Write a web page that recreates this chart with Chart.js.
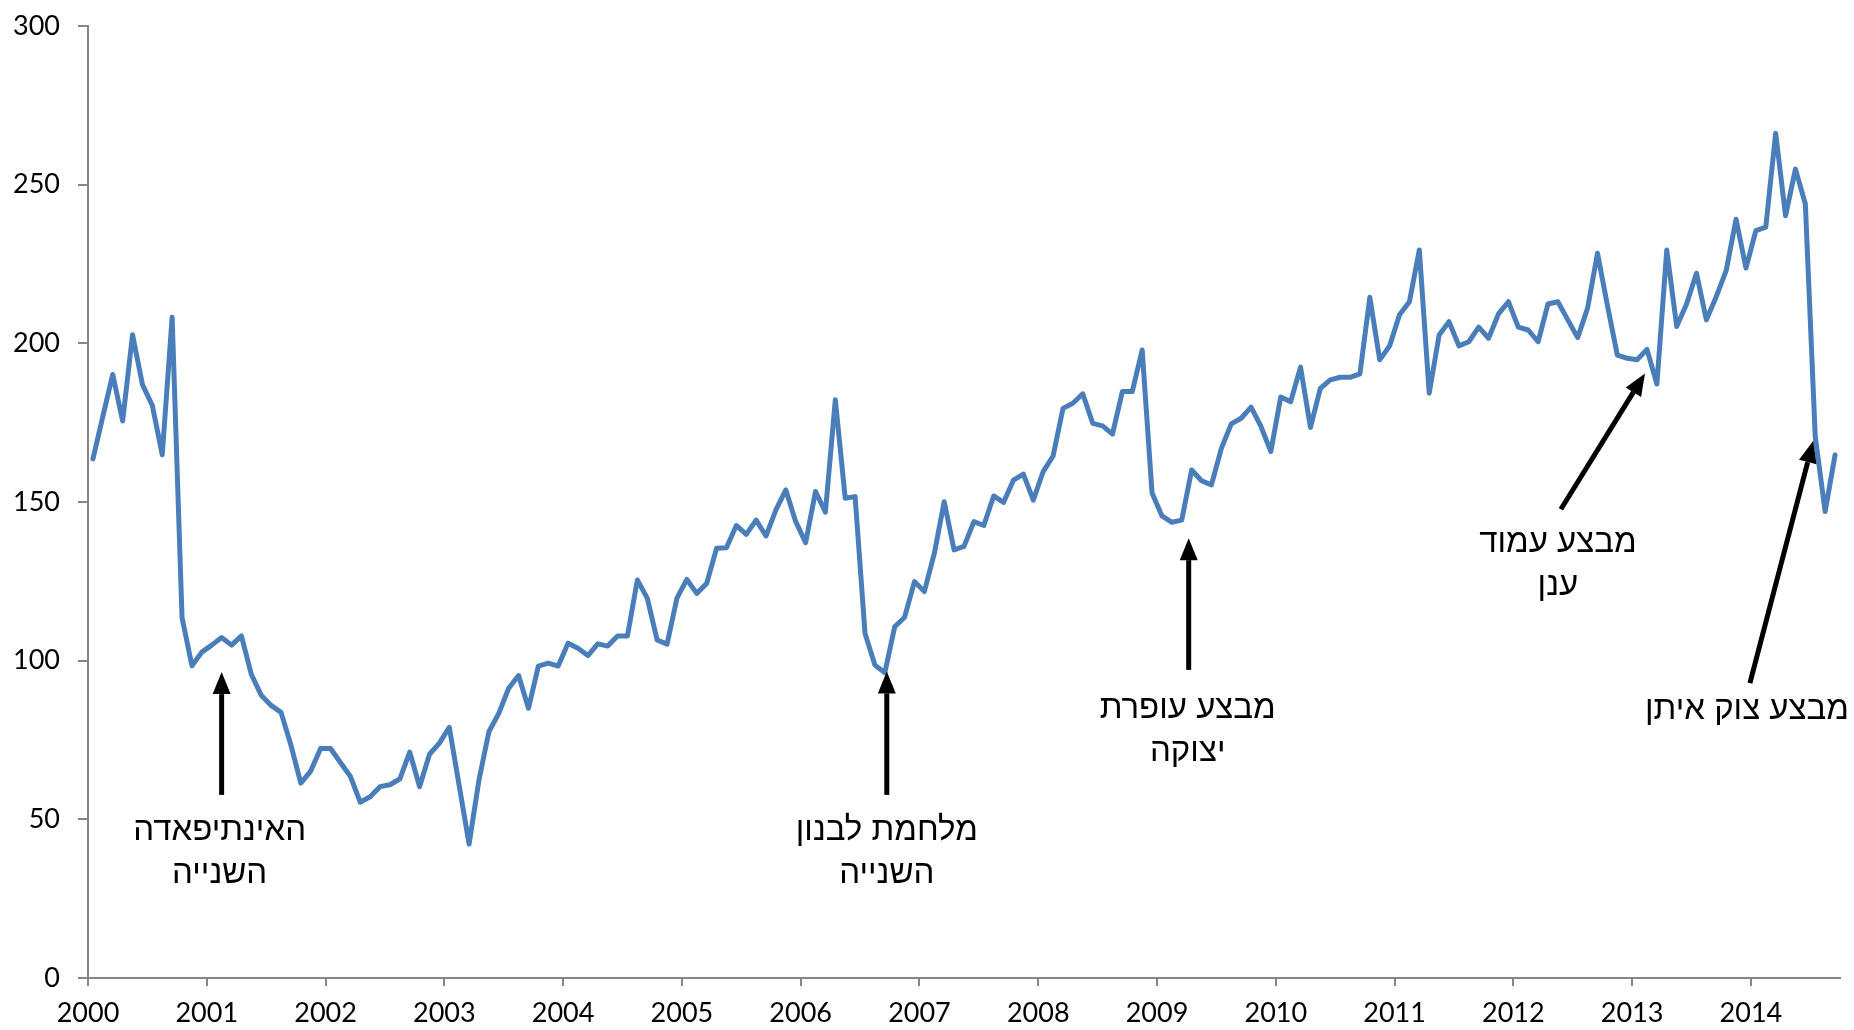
<!DOCTYPE html>
<html>
<head>
<meta charset="utf-8">
<script src="https://cdn.jsdelivr.net/npm/chart.js@4"></script>
<style>
  body { margin: 0; background: #fff; }
  #wrap { width: 1854px; height: 1030px; }
</style>
</head>
<body>
<div id="wrap"><canvas id="chart" width="1854" height="1030"></canvas></div>
<script>
// monthly series, Jan 2000 .. Sep 2014
const yearLabels = ['2000','2001','2002','2003','2004','2005','2006','2007','2008','2009','2010','2011','2012','2013','2014']
const values = [
  163.6, 177, 190.2, 175.5, 202.7, 187, 180.4, 164.9, 208.2, 113.6, 98.4, 102.7,
  104.9, 107.3, 104.9, 107.8, 95.7, 89.1, 85.9, 83.7, 73.4, 61.4, 65.2, 72.3,
  72.3, 67.9, 63.6, 55.4, 57.1, 60.3, 60.9, 62.7, 71.2, 60.3, 70.5, 74.0,
  79.0, 60.6, 42.2, 62.4, 77.6, 83.4, 91.3, 95.3, 85.0, 98.3, 99.2, 98.3,
  105.5, 103.9, 101.6, 105.3, 104.6, 107.8, 107.8, 125.4, 119.7, 106.5, 105.2, 119.7,
  125.6, 121.2, 124.3, 135.4, 135.6, 142.6, 139.8, 144.3, 139.3, 147.5, 153.8, 143.8,
  137.2, 153.3, 146.8, 182.2, 151.2, 151.7, 108.6, 98.6, 96.2, 110.7, 113.7, 124.9,
  121.8, 133.8, 150.1, 134.9, 136.0, 143.8, 142.6, 151.9, 149.9, 156.9, 158.8, 150.6,
  159.6, 164.5, 179.5, 181.1, 184.1, 174.8, 174.0, 171.4, 184.8, 184.8, 197.9, 152.8,
  145.6, 143.6, 144.3, 160.1, 156.7, 155.4, 166.9, 174.6, 176.4, 179.9, 173.8, 165.9,
  183.1, 181.6, 192.5, 173.5, 185.8, 188.5, 189.3, 189.3, 190.4, 214.5, 194.8, 199.2,
  209.0, 213.1, 229.4, 184.3, 202.6, 206.8, 199.2, 200.5, 205.1, 201.6, 209.3, 213.1,
  205.1, 204.2, 200.5, 212.4, 213.1, 207.4, 201.8, 211.1, 228.4, 212, 196.3, 195.3,
  194.8, 198.1, 187.2, 229.4, 205.3, 212.4, 222.1, 207.4, 214.7, 222.9, 239.1, 223.7,
  235.5, 236.6, 266.2, 240.2, 254.9, 243.9, 170.6, 147.0, 164.8
]
const yTicks = [0, 50, 100, 150, 200, 250, 300]

// annotation texts; arrows go from tail to tip, in (month index, value) units
const notes = [
  { lines: ['האינתיפאדה', 'השנייה'], at: [13.3, 46.3], from: [13.5, 57.7], to: [13.5, 96.4] },
  { lines: ['מלחמת לבנון', 'השנייה'], at: [80.7, 46.3], from: [80.7, 57.7], to: [80.7, 96.6] },
  { lines: ['מבצע עופרת', 'יצוקה'], at: [111.1, 84.8], from: [111.2, 97.1], to: [111.2, 138.6] },
  { lines: ['מבצע עמוד', 'ענן'], at: [148.5, 137.0], from: [148.8, 147.7], to: [157.3, 190.5] },
  { lines: ['מבצע צוק איתן'], at: [167.6, 84.5], from: [167.9, 92.9], to: [174.3, 169.3] }
]

const points = values.map((v, i) => ({ x: i + 0.5, y: v }))
const axisGrey = '#868686'
const tickFont = { family: 'Lato', size: 27 }

const notesPlugin = {
  id: 'notes',
  afterDatasetsDraw(chart) {
    const ctx = chart.ctx
    const xs = chart.scales.x, ys = chart.scales.y
    ctx.save()
    ctx.fillStyle = '#000'
    ctx.strokeStyle = '#000'
    notes.forEach(n => {
      const x1 = xs.getPixelForValue(n.from[0]), y1 = ys.getPixelForValue(n.from[1])
      const x2 = xs.getPixelForValue(n.to[0]), y2 = ys.getPixelForValue(n.to[1])
      const a = Math.atan2(y2 - y1, x2 - x1)
      const head = 22, half = 9
      const bx = x2 - head * Math.cos(a), by = y2 - head * Math.sin(a)
      ctx.lineWidth = 5
      ctx.beginPath()
      ctx.moveTo(x1, y1)
      ctx.lineTo(bx, by)
      ctx.stroke()
      ctx.beginPath()
      ctx.moveTo(x2, y2)
      ctx.lineTo(bx + half * Math.sin(a), by - half * Math.cos(a))
      ctx.lineTo(bx - half * Math.sin(a), by + half * Math.cos(a))
      ctx.closePath()
      ctx.fill()

      ctx.font = '33px "Liberation Sans"'
      ctx.textAlign = 'center'
      ctx.textBaseline = 'middle'
      const tx = xs.getPixelForValue(n.at[0]), ty = ys.getPixelForValue(n.at[1])
      n.lines.forEach((l, k) => ctx.fillText(l, tx, ty + k * 43))
    })
    ctx.restore()
  }
}

new Chart(document.getElementById('chart'), {
  type: 'line',
  data: {
    datasets: [{
      data: points,
      borderColor: '#4a7ebb',
      borderWidth: 5,
      borderJoinStyle: 'round',
      borderCapStyle: 'round',
      pointRadius: 0,
      tension: 0,
      fill: false
    }]
  },
  options: {
    responsive: false,
    animation: false,
    devicePixelRatio: 1,
    layout: { padding: { left: 0, right: 14, top: 26, bottom: 0 } },
    plugins: { legend: { display: false }, tooltip: { enabled: false } },
    scales: {
      x: {
        type: 'linear',
        min: 0,
        max: values.length,
        afterBuildTicks: s => { s.ticks = yearLabels.map((_, k) => ({ value: k * 12 })) },
        afterFit: s => { s.height = 52 },
        grid: { drawOnChartArea: false, drawTicks: true, tickLength: 8, color: axisGrey, lineWidth: 2 },
        border: { color: axisGrey, width: 2 },
        ticks: {
          color: '#000',
          font: tickFont,
          padding: 11,
          maxRotation: 0,
          autoSkip: false,
          callback: (v, i) => yearLabels[i]
        }
      },
      y: {
        min: 0,
        max: 300,
        afterBuildTicks: s => { s.ticks = yTicks.map(v => ({ value: v })) },
        afterFit: s => { s.width = 88; s.paddingTop = 0; s.paddingBottom = 0 },
        grid: { drawOnChartArea: false, drawTicks: true, tickLength: 10, color: axisGrey, lineWidth: 2 },
        border: { color: axisGrey, width: 2 },
        ticks: { color: '#000', font: tickFont, padding: 18 }
      }
    }
  },
  plugins: [notesPlugin]
})
</script>
</body>
</html>
